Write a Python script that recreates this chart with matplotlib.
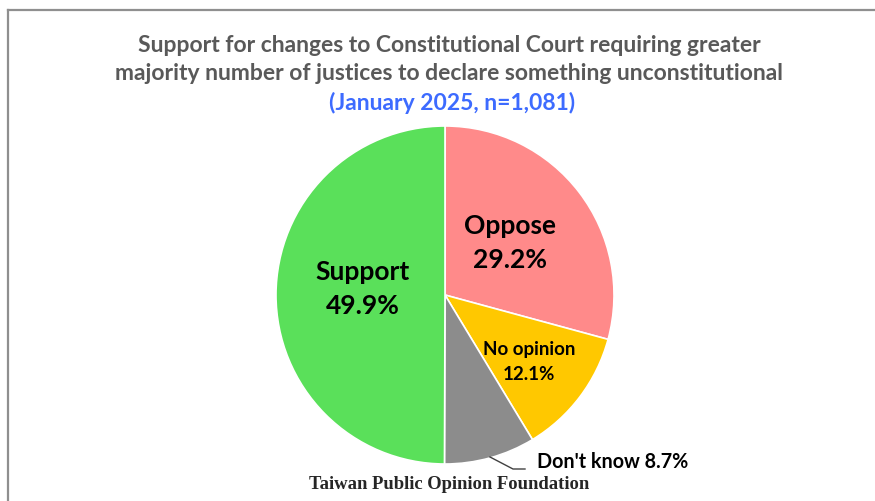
import matplotlib.pyplot as plt
from matplotlib.lines import Line2D

# data
labels = ["Oppose", "No opinion", "Don't know", "Support"]
values = [29.2, 12.1, 8.7, 49.9]
colors = ["#FF8A8A", "#FFC800", "#8C8C8C", "#5AE05A"]

W, H = 875, 502
fig = plt.figure(figsize=(W / 100, H / 100), dpi=100)

# frame (left + top only visible)
fig.add_artist(Line2D([7.5 / W, 7.5 / W], [0, 1 - 10.5 / H], color="#8f8f8f", lw=1.6,
                      transform=fig.transFigure))
fig.add_artist(Line2D([7.5 / W, 1], [1 - 10.5 / H, 1 - 10.5 / H], color="#8f8f8f", lw=1.6,
                      transform=fig.transFigure))

# pie axes: centre (445, 296) px, radius 169 px
cx, cy, r = 445, 296, 169
ax = fig.add_axes([(cx - r) / W, (H - cy - r) / H, 2 * r / W, 2 * r / H])
ax.pie(values, colors=colors, startangle=90, counterclock=False, radius=1,
       wedgeprops=dict(edgecolor="white", linewidth=1.2))
ax.set_xlim(-1, 1)
ax.set_ylim(-1, 1)
ax.set_aspect("auto")
ax.axis("off")

def px(x, y):
    return (x - cx) / r, (cy - y) / r

font = ["Lato", "DejaVu Sans"]

x, y = px(363, 289)
ax.text(x, y, f"{labels[3]}\n{values[3]}%", ha="center", va="center", fontsize=19,
        fontweight="bold", family=font, linespacing=1.5)
x, y = px(510, 243)
ax.text(x, y, f"{labels[0]}\n{values[0]}%", ha="center", va="center", fontsize=19,
        fontweight="bold", family=font, linespacing=1.5)
x, y = px(529, 362)
ax.text(x, y, f"{labels[1]}\n{values[1]}%", ha="center", va="center", fontsize=13.5,
        fontweight="bold", family=font, linespacing=1.55)

# leader line for Don't know
p1, p2, p3 = px(490, 458), px(513, 470), px(525, 470)
ax.plot([p1[0], p2[0], p3[0]], [p1[1], p2[1], p3[1]], color="#404040", lw=1.0, clip_on=False)
x, y = px(537, 462)
ax.text(x, y, f"{labels[2]} {values[2]}%", ha="left", va="center", fontsize=14.2,
        fontweight="bold", family=font, clip_on=False)

# titles
fig.text(449 / W, 1 - 45 / H, "Support for changes to Constitutional Court requiring greater",
         ha="center", va="center", fontsize=16.5, fontweight="bold", color="#595959", family=font)
fig.text(449 / W, 1 - 73 / H, "majority number of justices to declare something unconstitutional",
         ha="center", va="center", fontsize=16.5, fontweight="bold", color="#595959", family=font)
fig.text(452 / W, 1 - 103 / H, "(January 2025, n=1,081)",
         ha="center", va="center", fontsize=16.5, fontweight="bold", color="#3D6BFF", family=font)

fig.text(449 / W, 1 - 485 / H, "Taiwan Public Opinion Foundation", ha="center", va="center",
         fontsize=13.4, fontweight="bold", color="#262626", family="Liberation Serif")

fig.savefig("out.png", dpi=100, facecolor="white")
